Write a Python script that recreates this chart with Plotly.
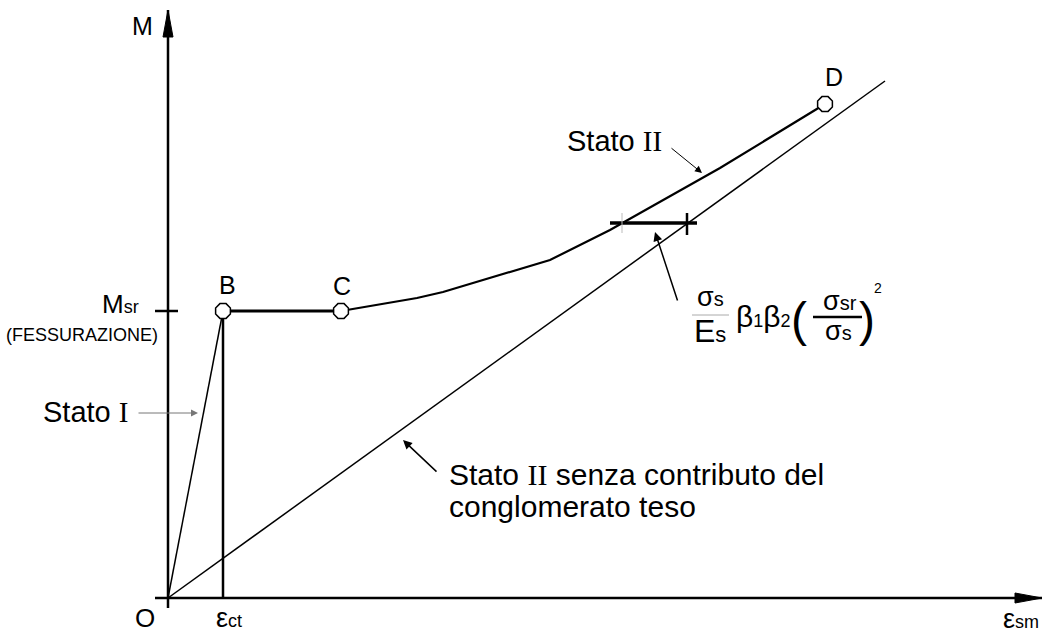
import plotly.graph_objects as go

# drawing units: origin O = (0, 0), x = eps_sm, y = M
point_names = ["B", "C", "D"]
point_x = [55, 173, 657]
point_y = [287, 287, 494]

stato1_x = [0, 55]
stato1_y = [0, 287]

plateau_x = [55, 173]
plateau_y = [287, 287]

stato2_x = [173, 249, 275, 382, 442, 552, 657]
stato2_y = [287, 300, 306, 338, 368, 430, 494]

# Stato II senza contributo del conglomerato teso
nudo_x = [0, 717]
nudo_y = [0, 517]

eps_ct = 55
m_sr = 287

# tension stiffening bar
bar_x = [442, 529]
bar_y = [375, 375]
cross_x = 519
tick_x = 454

x_axis = [-13, 874]
y_axis = [-10, 588]

SANS = "Liberation Sans, Arial, sans-serif"


def line(fig, xs, ys, w, color="black"):
    fig.add_trace(go.Scatter(x=xs, y=ys, mode="lines", line=dict(color=color, width=w),
                             hoverinfo="skip", showlegend=False))


def tri(fig, xs, ys):
    fig.add_trace(go.Scatter(x=xs, y=ys, mode="lines", fill="toself", fillcolor="black",
                             line=dict(color="black", width=1), hoverinfo="skip", showlegend=False))


fig = go.Figure()

# axes
line(fig, x_axis, [0, 0], 2.5)
line(fig, [0, 0], y_axis, 2.5)
hl, hw = 27, 5
tri(fig, [x_axis[1], x_axis[1] - hl, x_axis[1] - hl, x_axis[1]], [0, hw, -hw, 0])
tri(fig, [0, -hw, hw, 0], [y_axis[1], y_axis[1] - hl, y_axis[1] - hl, y_axis[1]])

# Msr tick and eps_ct line
line(fig, [-13, 10], [m_sr, m_sr], 2.5)
line(fig, [eps_ct, eps_ct], [0, m_sr], 2.5)

# curves
line(fig, stato1_x, stato1_y, 1.5)
line(fig, plateau_x, plateau_y, 3)
line(fig, stato2_x, stato2_y, 2.2)
line(fig, nudo_x, nudo_y, 1.5)

# tension stiffening bar
line(fig, bar_x, bar_y, 3.5)
line(fig, [cross_x, cross_x], [bar_y[0] - 12, bar_y[0] + 10], 2.5)
line(fig, [tick_x, tick_x], [bar_y[0] - 10, bar_y[0] + 10], 1, "#bbbbbb")

# points
fig.add_trace(go.Scatter(x=point_x, y=point_y, mode="markers",
                         marker=dict(symbol="octagon", size=16, color="white",
                                     line=dict(color="black", width=1.5)),
                         hoverinfo="skip", showlegend=False))

ann = []


def txt(x, y, t, size=29, xanchor="center", family=SANS):
    ann.append(dict(x=x, y=y, text=t, showarrow=False, xanchor=xanchor, yanchor="middle",
                    font=dict(family=family, size=size, color="black")))


def arr(x, y, ax, ay, w=1, color="black", size=1.3):
    ann.append(dict(x=x, y=y, ax=ax, ay=ay, axref="x", ayref="y", text="", showarrow=True,
                    arrowhead=2, arrowsize=size, arrowwidth=w, arrowcolor=color))


def roman(n):
    return "<span style='font-family:Liberation Serif'>%s</span>" % n


def sm(t, s=18):
    return "<span style='font-size:%dpx'>%s</span>" % (s, t)


label_dx = [4, 1, 9]
label_dy = [26, 25, 27]
for n, px, py, dx, dy in zip(point_names, point_x, point_y, label_dx, label_dy):
    txt(px + dx, py + dy, n, 25)

txt(-26, 572, "M", 25)
txt(-23, -20, "O", 26)
txt(61, -20, "ε" + sm("ct"), 27)
txt(853, -21, "ε" + sm("sm"), 27)

txt(-27, 294, "M" + sm("sr", 18), 26, xanchor="right")
txt(-86, 263, "(FESSURAZIONE)", 18)

txt(-83, 186, "Stato " + roman("I"))
txt(446, 457, "Stato " + roman("II"))
txt(279, 124, "Stato " + roman("II") + " senza contributo del", 30, xanchor="left")
txt(279, 92, "conglomerato teso", 30, xanchor="left")

# formula
txt(542, 301, "σ" + sm("s", 20), 27)
line(fig, [524, 561], [283, 283], 1, "#aaaaaa")
txt(542, 267, "E" + sm("s", 22), 32)
txt(595, 282, "β" + sm("1", 18) + "β" + sm("2", 18), 30)
txt(631, 279, "(", 48)
txt(672, 297, "σ" + sm("sr", 20), 27)
line(fig, [645, 694], [281, 281], 2.5)
txt(670, 267, "σ" + sm("s", 20), 27)
txt(699, 279, ")", 48)
txt(710, 310, "2", 14)

# arrows
arr(30, 185, -31, 185, 1, "#777777", 1.4)
arr(534, 425, 502, 451, 1, "black", 1.4)
arr(235, 158, 270, 125, 1.5, "black", 1.2)
arr(487, 366, 510, 296, 1.5, "black", 1.2)

fig.update_layout(
    width=1046, height=631,
    margin=dict(l=0, r=0, t=0, b=0),
    paper_bgcolor="white", plot_bgcolor="white",
    xaxis=dict(range=[-168, 878], visible=False, fixedrange=True),
    yaxis=dict(range=[-33, 598], visible=False, fixedrange=True),
    annotations=ann,
)

fig.write_html("out.html", config={"displayModeBar": False},
               post_script="document.body.style.margin='0';")
